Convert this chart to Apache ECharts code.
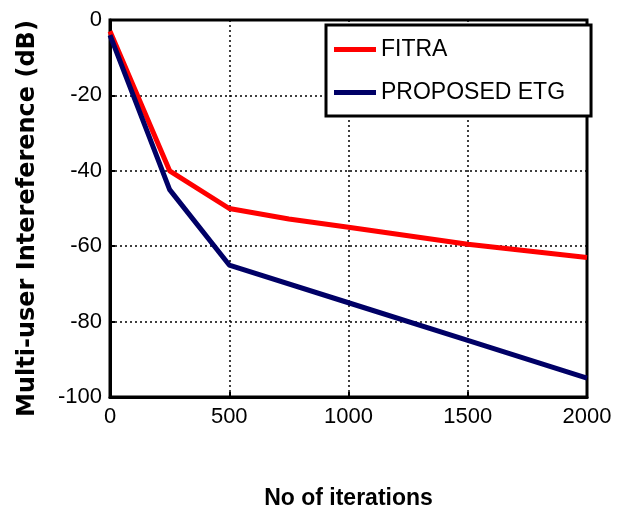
<!DOCTYPE html>
<html>
<head>
<meta charset="utf-8">
<script src="https://cdn.jsdelivr.net/npm/echarts@6/dist/echarts.min.js"></script>
<style>html,body{margin:0;padding:0;background:#fff;}#c{width:625px;height:511px;}</style>
</head>
<body>
<div id="c"></div>
<script>
const fitraX = [0, 250, 500, 750, 1000, 1500, 2000];
const fitraY = [-3, -40, -50, -52.8, -55, -59.5, -63];
const etgX = [0, 250, 500, 1000, 1500, 2000];
const etgY = [-4, -45, -65, -75, -85, -95];
const xTicks = [0, 500, 1000, 1500, 2000];
const yTicks = [0, -20, -40, -60, -80, -100];

const sans = '"Liberation Sans", Arial, sans-serif';
const chart = echarts.init(document.getElementById('c'));
chart.setOption({
  animation: false,
  backgroundColor: '#fff',
  grid: { left: 110, top: 20, right: 38, bottom: 114, outerBoundsMode: 'none', containLabel: false,
          show: true, borderColor: '#000', borderWidth: 3, backgroundColor: 'transparent' },
  legend: {
    orient: 'vertical', left: 326, top: 25,
    backgroundColor: '#fff', borderColor: '#000', borderWidth: 3,
    padding: [13, 26, 12, 8], itemGap: 20,
    icon: 'rect', itemWidth: 42, itemHeight: 5,
    textStyle: { fontFamily: sans, fontSize: 23, color: '#000' },
    data: ['FITRA', 'PROPOSED ETG']
  },
  xAxis: {
    type: 'value', min: xTicks[0], max: xTicks[xTicks.length - 1], interval: 500,
    name: 'No of iterations', nameLocation: 'middle', nameGap: 90,
    nameTextStyle: { fontFamily: sans, fontWeight: 'bold', fontSize: 23, color: '#000' },
    axisLine: { show: true, onZero: false, lineStyle: { color: '#000', width: 3 } },
    axisTick: { show: true, inside: true, length: 5, lineStyle: { color: '#000', width: 2 } },
    axisLabel: { margin: 9, fontFamily: sans, fontSize: 22, color: '#000', formatter: v => String(v) },
    splitLine: { show: true, lineStyle: { color: '#000', type: [2, 3], width: 1.5 } }
  },
  yAxis: {
    type: 'value', min: yTicks[yTicks.length - 1], max: yTicks[0], interval: 20,
    name: 'Multi-user Intereference (dB)', nameLocation: 'middle', nameGap: 70, nameRotate: 90,
    nameTextStyle: { fontFamily: '"DejaVu Sans", sans-serif', fontWeight: 'bold', fontSize: 24, color: '#000', padding: [0, 20, 0, 0] },
    axisLine: { show: true, onZero: false, lineStyle: { color: '#000', width: 3 } },
    axisTick: { show: true, inside: true, length: 5, lineStyle: { color: '#000', width: 2 } },
    axisLabel: { margin: 8, fontFamily: sans, fontSize: 22, color: '#000', formatter: v => String(v) },
    splitLine: { show: true, lineStyle: { color: '#000', type: [2, 3], width: 1.5 } }
  },
  series: [
    { name: 'FITRA', type: 'line', showSymbol: false, symbol: 'none', color: '#ff0000',
      lineStyle: { color: '#ff0000', width: 5 },
      data: fitraX.map((x, i) => [x, fitraY[i]]) },
    { name: 'PROPOSED ETG', type: 'line', showSymbol: false, symbol: 'none', color: '#000066',
      lineStyle: { color: '#000066', width: 5 },
      data: etgX.map((x, i) => [x, etgY[i]]) }
  ]
});
</script>
</body>
</html>
